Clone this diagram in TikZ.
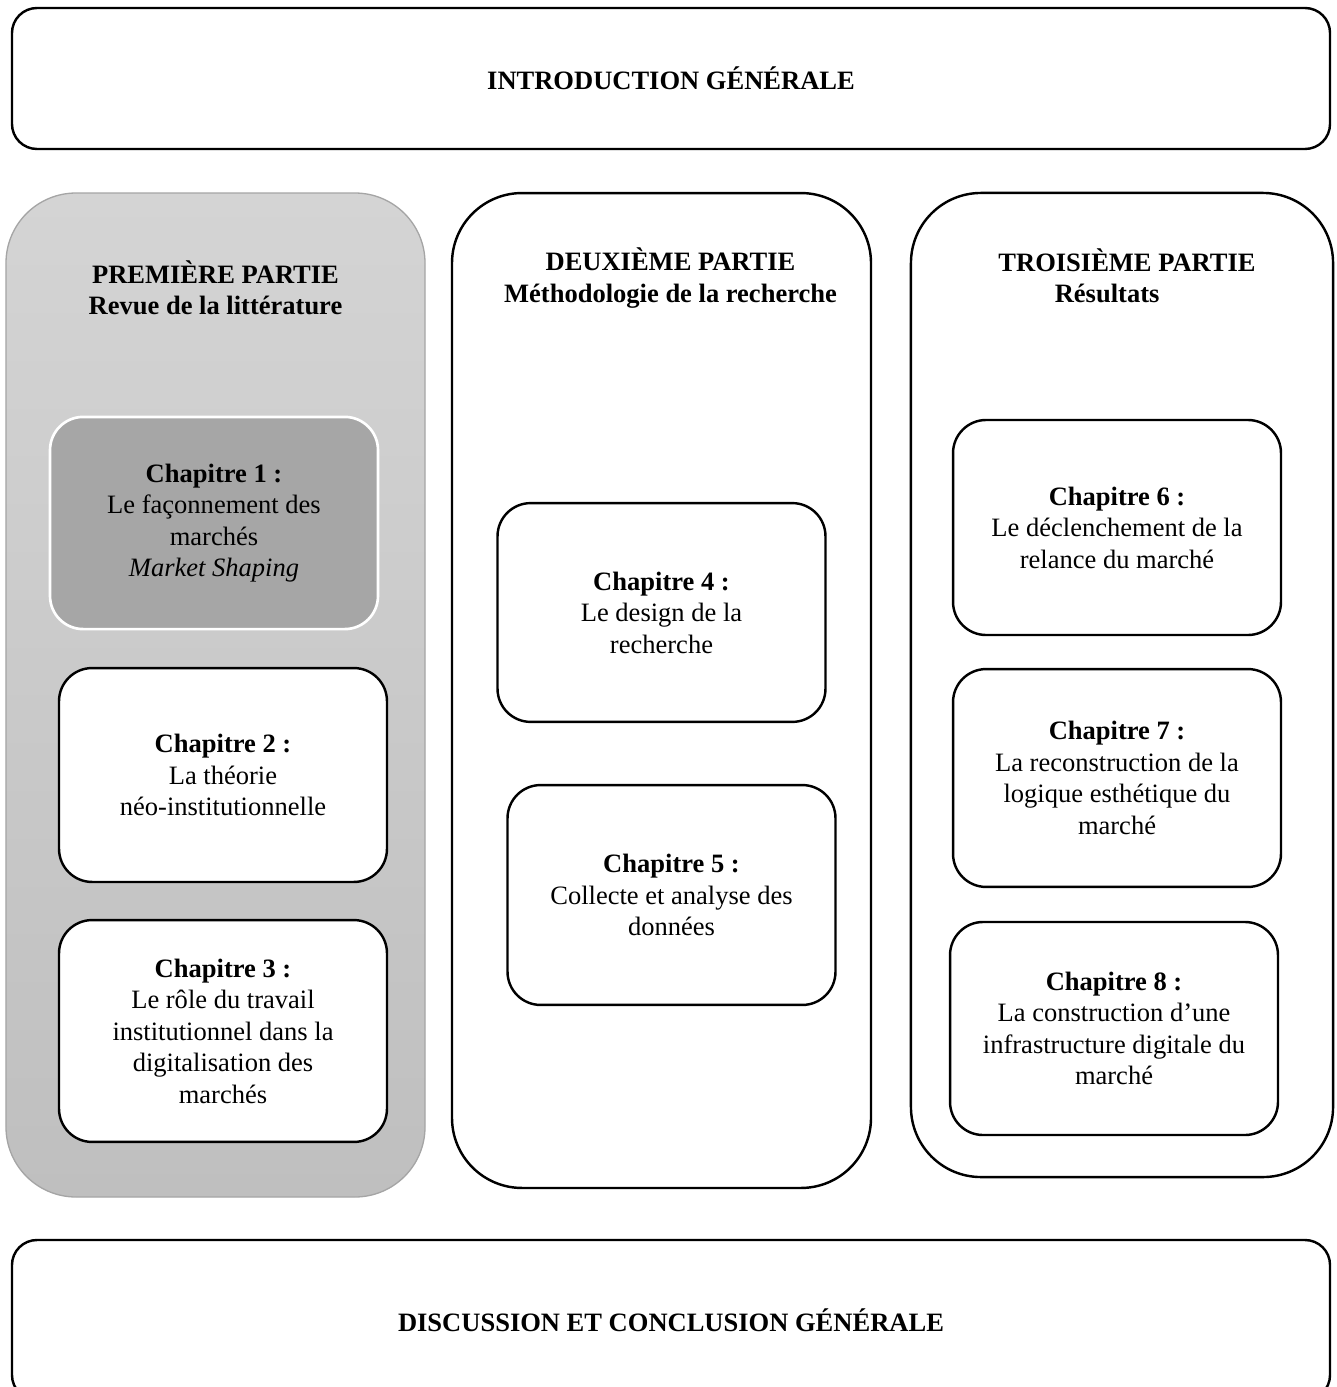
\documentclass[tikz,border=0pt]{standalone}
\usepackage{fontspec}
\setmainfont{Liberation Serif}
\definecolor{parttop}{RGB}{212,212,212}
\definecolor{partbot}{RGB}{191,191,191}
\definecolor{partline}{RGB}{165,165,165}
\definecolor{chapgrey}{RGB}{166,166,166}
\begin{document}
\begin{tikzpicture}[x=0.4525pt,y=-0.4525pt,
        font=\fontsize{12}{14.25}\selectfont,
        every node/.style={align=center,inner sep=0pt},
        band/.style={draw,line width=1.1pt,rounded corners=11.3pt,fill=white,minimum width=596.4pt,font=\fontsize{12}{14.25}\selectfont\bfseries},
        part/.style={draw,line width=1.1pt,rounded corners=31.7pt,fill=white,minimum width=189.6pt},
        parttitle/.style={font=\fontsize{12}{14.25}\selectfont\bfseries},
        chap/.style={draw,line width=1.1pt,rounded corners=15pt,fill=white,minimum width=148.4pt,minimum height=98pt}]
    \useasboundingbox (0,0) rectangle (1336,1387);
    % haut et bas
    \node[band,minimum height=63.8pt] (intro) at (671,78.5) {INTRODUCTION GÉNÉRALE};
    \node[band,minimum height=72.4pt] (concl) at (671,1320) {DISCUSSION ET CONCLUSION GÉNÉRALE};
    % les trois parties
    \node[part,draw=partline,line width=.6pt,top color=parttop,bottom color=partbot,minimum height=454.3pt] (p1) at (215.5,695) {};
    \node[part,minimum height=450.2pt] (p2) at (661.5,690.5) {};
    \node[part,minimum width=191pt,minimum height=445.3pt] (p3) at (1122,685) {};
    \node[parttitle] (t1) at (215.5,288) {PREMIÈRE PARTIE\\Revue de la littérature};
    \node[parttitle] (t2) at (670.5,278) {DEUXIÈME PARTIE\\Méthodologie de la recherche};
    \node[parttitle] (t3) at (1127,276) {TROISIÈME PARTIE\\Résultats\hspace*{18pt}};
    % chapitres
    \node[chap,draw=white,fill=chapgrey,line width=1.2pt,minimum height=96pt] (ch1) at (214,523) {\textbf{Chapitre 1 :}\\Le façonnement des\\marchés\\\textit{Market Shaping}};
    \node[chap,minimum height=96.8pt] (ch2) at (223,775) {\textbf{Chapitre 2 :}\\La théorie\\néo-institutionnelle};
    \node[chap,minimum height=100.4pt] (ch3) at (223,1031) {\textbf{Chapitre 3 :}\\Le rôle du travail\\institutionnel dans la\\digitalisation des\\marchés};
    \node[chap,minimum height=99pt] (ch4) at (661.5,612.5) {\textbf{Chapitre 4 :}\\Le design de la\\recherche};
    \node[chap,minimum height=99.5pt] (ch5) at (671.5,895) {\textbf{Chapitre 5 :}\\Collecte et analyse des\\données};
    \node[chap,minimum height=97.3pt] (ch6) at (1117,527.5) {\textbf{Chapitre 6 :}\\Le déclenchement de la\\relance du marché};
    \node[chap,minimum height=98.6pt] (ch7) at (1117,778) {\textbf{Chapitre 7 :}\\La reconstruction de la\\logique esthétique du\\marché};
    \node[chap,minimum height=96.4pt] (ch8) at (1114,1028.5) {\textbf{Chapitre 8 :}\\La construction d’une\\infrastructure digitale du\\marché};
\end{tikzpicture}
\end{document}
